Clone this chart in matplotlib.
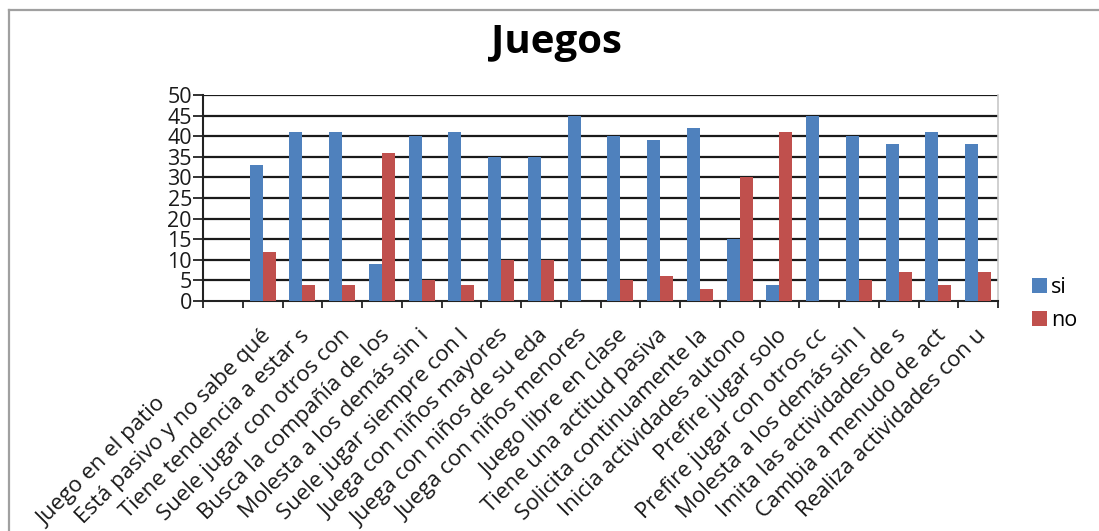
import matplotlib
matplotlib.use("Agg")
import matplotlib.pyplot as plt
from matplotlib.lines import Line2D
import numpy as np

plt.rcParams['font.family'] = ['Open Sans', 'DejaVu Sans']

title = "Juegos"
categories = [
    "Juego en el patio",
    "Está pasivo y no sabe qué",
    "Tiene tendencia a estar s",
    "Suele jugar con otros con",
    "Busca la compañía de los",
    "Molesta a los demás sin i",
    "Suele jugar siempre con l",
    "Juega con niños mayores",
    "Juega con niños de su eda",
    "Juega con niños menores",
    "Juego libre en clase",
    "Tiene una actitud pasiva",
    "Solicita continuamente la",
    "Inicia actividades autono",
    "Prefire jugar solo",
    "Prefire jugar con otros cc",
    "Molesta a los demás sin l",
    "Imita las actividades de s",
    "Cambia a menudo de act",
    "Realiza actividades con u",
]
si = [0, 33, 41, 41, 9, 40, 41, 35, 35, 45, 40, 39, 42, 15, 4, 45, 40, 38, 41, 38]
no = [0, 12, 4, 4, 36, 5, 4, 10, 10, 0, 5, 6, 3, 30, 41, 0, 5, 7, 4, 7]
series_names = ["si", "no"]
colors = ["#4F81BD", "#C0504D"]
yticks = list(range(0, 51, 5))

W, H = 1099, 531
fig = plt.figure(figsize=(W / 100, H / 100), dpi=100)
ax = fig.add_axes([203 / W, 1 - 301 / H, (998 - 203) / W, (301 - 95) / H])

x = np.arange(len(categories))
bw = 0.33
b1 = ax.bar(x - bw / 2, si, width=bw, color=colors[0], label=series_names[0], zorder=3)
b2 = ax.bar(x + bw / 2, no, width=bw, color=colors[1], label=series_names[1], zorder=3)

ax.set_xlim(-0.5, len(categories) - 0.5)
ax.set_ylim(0, 50)
ax.set_yticks(yticks)
ax.set_yticklabels([str(v) for v in yticks], fontsize=15.5, color="#1a1a1a")
ax.tick_params(axis='y', length=7, width=1.3, color="#222222", pad=1)

# category boundary ticks
ax.set_xticks(np.arange(-0.5, len(categories), 1.0))
ax.set_xticklabels([])
ax.tick_params(axis='x', length=5, width=1.3, direction='out', color="#222222")

# gridlines
for v in yticks[1:]:
    ax.axhline(v, color="#1a1a1a", lw=1.6, zorder=1)

ax.spines['top'].set_visible(False)
ax.spines['right'].set_color("#c8c8c8")
ax.spines['right'].set_linewidth(1.2)
ax.spines['left'].set_color("#222222")
ax.spines['left'].set_linewidth(1.5)
ax.spines['bottom'].set_color("#222222")
ax.spines['bottom'].set_linewidth(1.5)

# rotated category labels
for i, lab in enumerate(categories):
    dx, dy = -3, -24
    if i == 0:
        dx, dy = -67, -92
    ax.annotate(lab, xy=(i, 0), xycoords='data', xytext=(dx, dy),
                textcoords='offset pixels', rotation=45, ha='right', va='top',
                rotation_mode='anchor', fontsize=16, color="#1a1a1a",
                annotation_clip=False)

fig.text(556 / W, 1 - 43 / H, title, fontsize=29, fontweight='bold',
         ha='center', va='center', color="black")

fig.legend(handles=[b1, b2], labels=series_names, loc='center left',
           bbox_to_anchor=(1021 / W, 1 - 304 / H), frameon=False, fontsize=15.5,
           handlelength=0.7, handleheight=0.7, handletextpad=0.2,
           labelspacing=0.55, borderpad=0)

# outer chart border (top and left)
fig.add_artist(Line2D([9 / W, 1], [1 - 10 / H, 1 - 10 / H], color="#a0a0a0", lw=1.6))
fig.add_artist(Line2D([9 / W, 9 / W], [0, 1 - 10 / H], color="#a0a0a0", lw=1.6))

fig.savefig("out.png", dpi=100)
